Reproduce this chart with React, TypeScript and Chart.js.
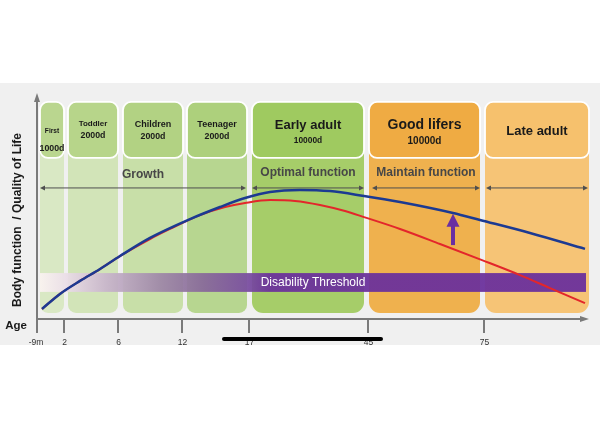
import { useEffect, useRef } from 'react';
import { Chart, registerables } from 'chart.js';

Chart.register(...registerables);

// ---------- data ----------
const stageTitles = ['First', 'Toddler', 'Children', 'Teenager', 'Early adult', 'Good lifers', 'Late adult'];
const stageDays = ['1000d', '2000d', '2000d', '2000d', '10000d', '10000d', ''];
const stageFrom = [0.3, 3.1, 8.6, 15.0, 21.5, 33.2, 44.8];
const stageTo = [2.7, 8.1, 14.6, 21.0, 32.7, 44.3, 55.2];

const phaseLabels = ['Growth', 'Optimal function', 'Maintain function', ''];
const phaseFrom = [0.3, 21.5, 33.5, 44.9];
const phaseTo = [20.9, 32.7, 44.3, 55.1];

const tickLabels = ['-9m', '2', '6', '12', '17', '45', '75'];
const tickPos = [0, 2.7, 8.1, 14.5, 21.2, 33.1, 44.7];

const blueX = [0.5, 2.3, 4.3, 6.3, 8.3, 11.3, 15.3, 18.3, 20.8, 23.3, 26.3, 29.3, 32.7, 36.3, 41.6, 44.3, 49.3, 54.8];
const blueY = [4.5, 11.2, 17.0, 22.3, 28.1, 36.2, 44.6, 50.0, 54.0, 56.7, 57.6, 57.1, 54.9, 52.2, 47.3, 44.2, 38.4, 31.3];

const redX = [0.5, 2.3, 4.3, 6.3, 8.3, 11.3, 13.3, 16.3, 18.8, 20.8, 23.3, 25.8, 28.3, 30.8, 32.7, 36.3, 40.3, 44.5, 48.3, 51.3, 54.8];
const redY = [4.5, 11.2, 17.0, 22.3, 28.1, 35.7, 40.2, 46.4, 50.0, 51.8, 53.1, 52.7, 50.9, 48.2, 45.5, 40.2, 33.5, 26.3, 19.6, 13.8, 7.1];

const thresholdLabel = 'Disability Threshold';
const thresholdFrom = 0.3;
const thresholdTo = 54.9;
const thresholdLow = 12.1;
const thresholdHigh = 20.5;

const improveX = 41.6;
const improveFrom = 33.0;
const improveTo = 47.0;

const yTitle = 'Body function  / Quality of Life';
const xTitle = 'Age';

// ---------- styles ----------
const FONT = '"Liberation Sans", Arial, Helvetica, sans-serif';
const headerColors = ['#bad68f', '#b7d58a', '#b2d283', '#add07c', '#9fca60', '#efab43', '#f6c16d'];
const bodyColors = ['#d9e8c4', '#d2e4b8', '#c8dfa8', '#b7d690', '#a6cd69', '#efb14e', '#f6c476'];
const titleSize = [6.6, 8, 9, 9, 13, 14, 13];
const daysSize = [8.8, 8.8, 8.8, 8.8, 8.4, 10, 0];
const titleDy = [29, 22, 23, 23, 23, 23, 29];
const daysDy = [47, 34, 35, 35, 39, 39, 0];
const HEADER_TOP = 96.9;
const HEADER_BOTTOM = 71.9;
const BODY_BOTTOM = 2.7;

const decor = {
  id: 'decor',
  beforeDatasetsDraw(chart: any) {
    const { ctx } = chart;
    const xs = chart.scales.x;
    const ys = chart.scales.y;
    const X = (v: number) => xs.getPixelForValue(v);
    const Y = (v: number) => ys.getPixelForValue(v);
    ctx.save();
    ctx.fillStyle = '#ffffff';
    ctx.fillRect(0, 0, chart.width, chart.height);
    ctx.fillStyle = '#f0f0f0';
    ctx.fillRect(0, 83, chart.width, 262);

    const ht = Y(HEADER_TOP);
    const hb = Y(HEADER_BOTTOM);
    const bb = Y(BODY_BOTTOM);
    for (let i = 0; i < stageTitles.length; i++) {
      const l = X(stageFrom[i]);
      const r = X(stageTo[i]);
      const rad = i >= 4 ? 11 : 8;
      ctx.fillStyle = bodyColors[i];
      ctx.beginPath();
      ctx.roundRect(l, ht + 10, r - l, bb - ht - 10, [0, 0, rad, rad]);
      ctx.fill();
      ctx.fillStyle = headerColors[i];
      ctx.strokeStyle = '#ffffff';
      ctx.lineWidth = 1.8;
      ctx.beginPath();
      ctx.roundRect(l, ht, r - l, hb - ht, 8);
      ctx.fill();
      ctx.stroke();

      const cx = (l + r) / 2;
      ctx.fillStyle = '#1a1a1a';
      ctx.textAlign = 'center';
      ctx.textBaseline = 'middle';
      ctx.font = `bold ${titleSize[i]}px ${FONT}`;
      ctx.fillText(stageTitles[i], cx, ht + titleDy[i]);
      if (stageDays[i]) {
        ctx.font = `bold ${daysSize[i]}px ${FONT}`;
        ctx.fillText(stageDays[i], cx, ht + daysDy[i]);
      }
    }

    // phases
    for (let i = 0; i < phaseLabels.length; i++) {
      const l = X(phaseFrom[i]);
      const r = X(phaseTo[i]);
      const ay = hb + 30;
      if (phaseLabels[i]) {
        ctx.fillStyle = '#474747';
        ctx.font = `bold 12px ${FONT}`;
        ctx.textAlign = 'center';
        ctx.textBaseline = 'middle';
        const dy = i === 0 ? 17 : 15;
        ctx.fillText(phaseLabels[i], (l + r) / 2, hb + dy);
      }
      ctx.strokeStyle = '#4f4f4f';
      ctx.fillStyle = '#4f4f4f';
      ctx.lineWidth = 1;
      ctx.beginPath();
      ctx.moveTo(l + 2, ay);
      ctx.lineTo(r - 2, ay);
      ctx.stroke();
      ctx.beginPath();
      ctx.moveTo(l, ay);
      ctx.lineTo(l + 5, ay - 2.5);
      ctx.lineTo(l + 5, ay + 2.5);
      ctx.closePath();
      ctx.fill();
      ctx.beginPath();
      ctx.moveTo(r, ay);
      ctx.lineTo(r - 5, ay - 2.5);
      ctx.lineTo(r - 5, ay + 2.5);
      ctx.closePath();
      ctx.fill();
    }

    // disability threshold band
    const bl = X(thresholdFrom);
    const br = X(thresholdTo);
    const bt = Y(thresholdHigh);
    const bbot = Y(thresholdLow);
    const g = ctx.createLinearGradient(bl, 0, br, 0);
    g.addColorStop(0, '#faf3f0');
    g.addColorStop(0.04, '#eee2ea');
    g.addColorStop(0.12, '#c9b6cc');
    g.addColorStop(0.22, '#9f88a8');
    g.addColorStop(0.3, '#88699a');
    g.addColorStop(0.38, '#7a4ea0');
    g.addColorStop(0.42, '#6b319b');
    g.addColorStop(1, '#6a2f9c');
    ctx.globalAlpha = 0.94;
    ctx.fillStyle = g;
    ctx.fillRect(bl, bt, br - bl, bbot - bt);
    ctx.globalAlpha = 1;
    ctx.fillStyle = '#ffffff';
    ctx.font = `12px ${FONT}`;
    ctx.textAlign = 'center';
    ctx.textBaseline = 'middle';
    ctx.fillText(thresholdLabel, 313, (bt + bbot) / 2 + 0.5);
    ctx.restore();
  },
  afterDatasetsDraw(chart: any) {
    const { ctx } = chart;
    const xs = chart.scales.x;
    const ys = chart.scales.y;
    const X = (v: number) => xs.getPixelForValue(v);
    const Y = (v: number) => ys.getPixelForValue(v);
    const area = chart.chartArea;
    ctx.save();

    // improvement arrow
    const ax = X(improveX);
    const a0 = Y(improveFrom);
    const a1 = Y(improveTo);
    ctx.fillStyle = '#6a2fa2';
    ctx.fillRect(ax - 2, a1 + 10, 4, a0 - a1 - 10);
    ctx.beginPath();
    ctx.moveTo(ax, a1);
    ctx.lineTo(ax + 6.5, a1 + 13);
    ctx.lineTo(ax - 6.5, a1 + 13);
    ctx.closePath();
    ctx.fill();

    // axes
    const x0 = area.left;
    const y0 = area.bottom;
    ctx.strokeStyle = '#7a7a7a';
    ctx.fillStyle = '#7a7a7a';
    ctx.lineWidth = 2;
    ctx.beginPath();
    ctx.moveTo(x0, y0 + 1);
    ctx.lineTo(x0, area.top + 4);
    ctx.moveTo(x0 - 1, y0);
    ctx.lineTo(area.right - 4, y0);
    ctx.stroke();
    ctx.beginPath();
    ctx.moveTo(x0, area.top - 2);
    ctx.lineTo(x0 + 3, area.top + 7);
    ctx.lineTo(x0 - 3, area.top + 7);
    ctx.closePath();
    ctx.fill();
    ctx.beginPath();
    ctx.moveTo(area.right + 1, y0);
    ctx.lineTo(area.right - 8, y0 - 3);
    ctx.lineTo(area.right - 8, y0 + 3);
    ctx.closePath();
    ctx.fill();

    // ticks
    ctx.font = `8.5px ${FONT}`;
    ctx.textAlign = 'center';
    ctx.textBaseline = 'middle';
    for (let i = 0; i < tickPos.length; i++) {
      const tx = X(tickPos[i]);
      ctx.strokeStyle = '#7a7a7a';
      ctx.lineWidth = 2;
      ctx.beginPath();
      ctx.moveTo(tx, y0);
      ctx.lineTo(tx, y0 + 14);
      ctx.stroke();
      ctx.fillStyle = '#333333';
      ctx.fillText(tickLabels[i], i === 0 ? tx - 1 : tx + 0.5, y0 + 24);
    }

    // titles
    ctx.fillStyle = '#1a1a1a';
    ctx.font = `bold 11.5px ${FONT}`;
    ctx.fillText(xTitle, 16, 326);
    ctx.save();
    ctx.translate(18, 220);
    ctx.rotate(-Math.PI / 2);
    ctx.font = `bold 12px ${FONT}`;
    ctx.fillText(yTitle, 0, 0);
    ctx.restore();

    // black indicator bar
    ctx.strokeStyle = '#000000';
    ctx.lineWidth = 4;
    ctx.lineCap = 'round';
    ctx.beginPath();
    ctx.moveTo(224, 339);
    ctx.lineTo(381, 339);
    ctx.stroke();
    ctx.restore();
  },
};

export default function App() {
  const ref = useRef<HTMLCanvasElement>(null);
  useEffect(() => {
    document.body.style.margin = '0';
    const chart = new Chart(ref.current as HTMLCanvasElement, {
      type: 'line',
      data: {
        datasets: [
          {
            label: 'Blue',
            data: blueX.map((x, i) => ({ x, y: blueY[i] })),
            borderColor: '#1c3a92',
            borderWidth: 2.5,
            pointRadius: 0,
            cubicInterpolationMode: 'monotone',
            fill: false,
          },
          {
            label: 'Red',
            data: redX.map((x, i) => ({ x, y: redY[i] })),
            borderColor: '#e3262b',
            borderWidth: 2,
            pointRadius: 0,
            cubicInterpolationMode: 'monotone',
            fill: false,
          },
        ],
      },
      options: {
        responsive: false,
        animation: false,
        devicePixelRatio: 1,
        layout: { padding: { left: 37, right: 12, top: 95, bottom: 111 } },
        scales: {
          x: { type: 'linear', min: 0, max: 55.1, display: false },
          y: { type: 'linear', min: 0, max: 100, display: false },
        },
        plugins: { legend: { display: false }, tooltip: { enabled: false } },
      },
      plugins: [decor],
    } as any);
    return () => chart.destroy();
  }, []);
  return (
    <div style={{ width: 600, height: 430 }}>
      <canvas ref={ref} width={600} height={430} style={{ display: 'block' }} />
    </div>
  );
}
